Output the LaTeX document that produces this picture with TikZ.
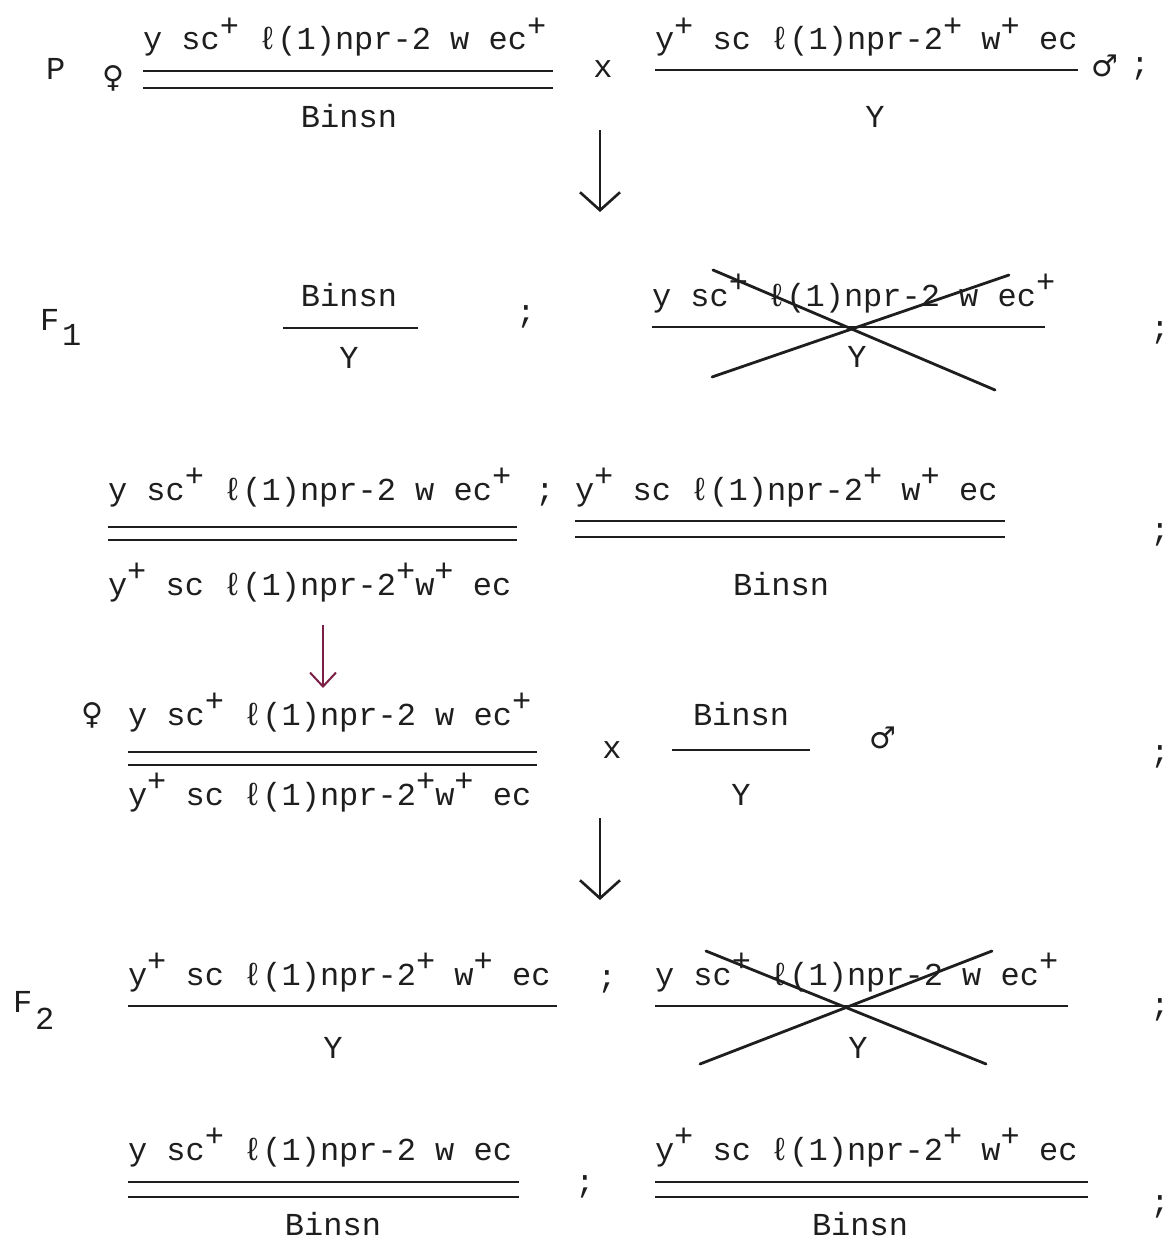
\documentclass[tikz,border=0pt]{standalone}
\usepackage{fontspec}
\setmonofont{Liberation Mono}
\newfontfamily\symf{DejaVu Sans}
\usetikzlibrary{arrows.meta}
\definecolor{maroonink}{HTML}{7A1F45}
\definecolor{ink}{HTML}{1E1E1E}
\newcommand\pl{\raisebox{0.42em}{+}}
\newcommand\ellx{ℓ}
\begin{document}
\begin{tikzpicture}[x=1pt,y=-1pt,
  every node/.style={inner sep=0pt, outer sep=0pt, text=ink},
  geno/.style={anchor=base west, font=\fontsize{32}{36}\selectfont\ttfamily},
  gcen/.style={anchor=base, font=\fontsize{32}{36}\selectfont\ttfamily},
  sexsym/.style={font=\fontsize{30}{34}\selectfont\symf},
  chrom/.style={line width=1.6pt, draw=ink},
  crossout/.style={line width=2.8pt, line cap=round, draw=ink},
  bigarrow/.style={line width=2.8pt, draw=ink, -{Straight Barb[length=18pt,width=40pt,line width=2.6pt]}},
  redarrow/.style={draw=maroonink, line width=2pt, -{Straight Barb[length=14pt,width=26pt,line width=2pt]}},
]
\fill[white] (0,0) rectangle (1168,1241);
\useasboundingbox (0,0) rectangle (1168,1241);

% ---------- P row ----------
\node[geno] (P) at (46,80) {P};
\node[sexsym] (pfem) at (113,78) {♀};
\node[geno] (p1top) at (143,50) {y sc\pl{} \ellx(1)npr-2 w ec\pl};
\draw[chrom] (143,71) -- (553,71);
\draw[chrom] (143,88) -- (553,88);
\node[gcen] (p1bot) at (349,128) {Binsn};
\node[gcen] (px) at (603,78) {x};
\node[geno] (p2top) at (655,50) {y\pl{} sc \ellx(1)npr-2\pl{} w\pl{} ec};
\draw[chrom] (655,70) -- (1078,70);
\node[gcen] (p2bot) at (875,128) {Y};
\node[sexsym] (pmale) at (1105,66) {♂};
\node[gcen] (psemi) at (1140,75) {;};

\coordinate (a1s) at (600,130);
\coordinate (a1e) at (600,212);
\draw[bigarrow] (a1s) -- (a1e);

% ---------- F1 row ----------
\node[geno] (F1) at (40,330) {F};
\node[geno] (F1sub) at (62,345) {1};
\node[gcen] (f1atop) at (349,306) {Binsn};
\draw[chrom] (283,328) -- (418,328);
\node[gcen] (f1abot) at (349,368) {Y};
\node[gcen] (f1semi1) at (526,322) {;};
\node[geno] (f1btop) at (652,306) {y sc\pl{} \ellx(1)npr-2 w ec\pl};
\draw[chrom] (652,327) -- (1045,327);
\node[gcen] (f1bbot) at (857,367) {Y};
\draw[crossout] (713,270) -- (995,390);
\draw[crossout] (712,377) -- (1009,275);
\node[gcen] (f1semi2) at (1160,338) {;};

% ---------- row 3 ----------
\node[geno] (r3atop) at (108,500) {y sc\pl{} \ellx(1)npr-2 w ec\pl};
\draw[chrom] (108,527) -- (517,527);
\draw[chrom] (108,540) -- (517,540);
\node[geno] (r3abot) at (108,595) {y\pl{} sc \ellx(1)npr-2\pl{}w\pl{} ec};
\node[gcen] (r3semi1) at (545,500) {;};
\node[geno] (r3btop) at (575,500) {y\pl{} sc \ellx(1)npr-2\pl{} w\pl{} ec};
\draw[chrom] (575,521) -- (1005,521);
\draw[chrom] (575,537) -- (1005,537);
\node[gcen] (r3bbot) at (781,595) {Binsn};
\node[gcen] (r3semi2) at (1160,540) {;};

\coordinate (a2s) at (323,625);
\coordinate (a2e) at (323,688);
\draw[redarrow] (a2s) -- (a2e);

% ---------- row 4 ----------
\node[sexsym] (r4fem) at (92,715) {♀};
\node[geno] (r4atop) at (128,725) {y sc\pl{} \ellx(1)npr-2 w ec\pl};
\draw[chrom] (128,752) -- (537,752);
\draw[chrom] (128,765) -- (537,765);
\node[geno] (r4abot) at (128,805) {y\pl{} sc \ellx(1)npr-2\pl{}w\pl{} ec};
\node[gcen] (r4x) at (612,758) {x};
\node[gcen] (r4btop) at (741,725) {Binsn};
\draw[chrom] (672,750) -- (810,750);
\node[gcen] (r4bbot) at (741,805) {Y};
\node[sexsym] (r4male) at (883,738) {♂};
\node[gcen] (r4semi) at (1160,762) {;};

\coordinate (a3s) at (600,818);
\coordinate (a3e) at (600,900);
\draw[bigarrow] (a3s) -- (a3e);

% ---------- F2 row ----------
\node[geno] (F2) at (13,1012) {F};
\node[geno] (F2sub) at (35,1029) {2};
\node[geno] (f2atop) at (128,985) {y\pl{} sc \ellx(1)npr-2\pl{} w\pl{} ec};
\draw[chrom] (128,1006) -- (557,1006);
\node[gcen] (f2abot) at (333,1058) {Y};
\node[gcen] (f2semi1) at (607,987) {;};
\node[geno] (f2btop) at (655,985) {y sc\pl{} \ellx(1)npr-2 w ec\pl};
\draw[chrom] (655,1006) -- (1068,1006);
\node[gcen] (f2bbot) at (858,1058) {Y};
\draw[crossout] (706,951) -- (986,1064);
\draw[crossout] (700,1064) -- (992,951);
\node[gcen] (f2semi2) at (1160,1015) {;};

% ---------- last row ----------
\node[geno] (r6atop) at (128,1160) {y sc\pl{} \ellx(1)npr-2 w ec};
\draw[chrom] (128,1182) -- (519,1182);
\draw[chrom] (128,1197) -- (519,1197);
\node[gcen] (r6abot) at (333,1235) {Binsn};
\node[gcen] (r6semi1) at (585,1192) {;};
\node[geno] (r6btop) at (655,1160) {y\pl{} sc \ellx(1)npr-2\pl{} w\pl{} ec};
\draw[chrom] (655,1182) -- (1088,1182);
\draw[chrom] (655,1197) -- (1088,1197);
\node[gcen] (r6bbot) at (860,1235) {Binsn};
\node[gcen] (r6semi2) at (1160,1212) {;};
\end{tikzpicture}
\end{document}
